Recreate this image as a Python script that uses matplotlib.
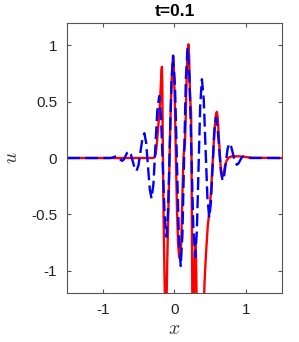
import numpy as np
import matplotlib
matplotlib.use("Agg")
import matplotlib.pyplot as plt

plt.rcParams['font.family'] = ['Liberation Sans', 'DejaVu Sans']
plt.rcParams['mathtext.fontset'] = 'cm'

# dashed blue curve
x_blue = [-1.5, -0.9, -0.875, -0.85, -0.825, -0.8, -0.7825, -0.765, -0.7475, -0.73,
          -0.706, -0.683, -0.659, -0.635, -0.609, -0.583, -0.556, -0.53,
          -0.5025, -0.475, -0.4475, -0.42, -0.395, -0.37, -0.345, -0.32,
          -0.293, -0.2665, -0.24, -0.213, -0.188, -0.1625, -0.137, -0.112,
          -0.089, -0.0655, -0.042, -0.019, 0.0075, 0.034, 0.0605, 0.087,
          0.111, 0.135, 0.159, 0.183, 0.2095, 0.236, 0.2625, 0.289,
          0.3125, 0.336, 0.3595, 0.383, 0.4085, 0.434, 0.4595, 0.485,
          0.508, 0.5315, 0.555, 0.578, 0.601, 0.6245, 0.648, 0.671,
          0.6945, 0.718, 0.7415, 0.765, 0.791, 0.8175, 0.844, 0.87,
          0.8925, 0.915, 0.9375, 0.96, 0.9825, 1.005, 1.0275, 1.05, 1.5]
u_blue = [0.0, 0.0, 0.002, 0.0075, 0.013, 0.015, 0.009, -0.005, -0.019, -0.025,
          -0.013, 0.018, 0.048, 0.06, 0.034, -0.028, -0.089, -0.115,
          -0.066, 0.053, 0.171, 0.22, 0.135, -0.07, -0.275, -0.36,
          -0.227, 0.095, 0.417, 0.55, 0.367, -0.075, -0.5175, -0.70,
          -0.465, 0.105, 0.675, 0.91, 0.637, -0.025, -0.687, -0.96,
          -0.676, 0.0125, 0.701, 0.985, 0.713, 0.0525, -0.608, -0.88,
          -0.649, -0.09, 0.469, 0.70, 0.52, 0.085, -0.35, -0.53,
          -0.40, -0.085, 0.23, 0.36, 0.278, 0.08, -0.118, -0.20,
          -0.152, -0.035, 0.082, 0.13, 0.102, 0.035, -0.032, -0.06,
          -0.049, -0.0225, 0.004, 0.015, 0.013, 0.0075, 0.002, 0.0, 0.0]

# solid red curve
x_red = [-1.5, -0.3, -0.28, -0.26, -0.24, -0.22, -0.205, -0.19, -0.18, -0.175,
         -0.17, -0.165, -0.158, -0.15, -0.14, -0.13, -0.12, -0.11, -0.10, -0.09,
         -0.075, -0.06, -0.045, -0.03, -0.02, -0.01, 0.005, 0.02, 0.035, 0.05,
         0.065, 0.08, 0.095, 0.11, 0.125, 0.135, 0.145, 0.155, 0.165, 0.18,
         0.195, 0.205, 0.215, 0.225, 0.232, 0.238, 0.244, 0.25, 0.26, 0.27,
         0.28, 0.29, 0.30, 0.31, 0.33, 0.37, 0.41, 0.42, 0.44, 0.465,
         0.485, 0.51, 0.535, 0.56, 0.58, 0.592, 0.605, 0.625, 0.645, 0.665,
         0.685, 0.705, 0.73, 0.76, 0.8, 0.9, 1.0, 1.1, 1.5]
u_red = [0.0, 0.0, 0.005, 0.04, 0.17, 0.33, 0.46, 0.65, 0.78, 0.81,
         0.65, 0.3, -0.2, -0.6, -1.0, -1.35, -1.45, -1.25, -0.9, -0.6,
         -0.2, 0.25, 0.6, 0.82, 0.9, 0.82, 0.5, 0.0, -0.45, -0.75,
         -0.88, -0.9, -0.75, -0.35, 0.0, 0.08, 0.12, 0.3, 0.6, 0.9,
         1.01, 0.9, 0.6, 0.47, 0.4, 0.0, -0.7, -1.3, -1.5, -1.3,
         -0.9, -0.76, -0.85, -1.3, -1.6, -1.6, -1.3, -1.1, -0.85, -0.6,
         -0.49, -0.3, -0.02, 0.26, 0.39, 0.41, 0.35, 0.12, -0.08, -0.17,
         -0.14, -0.07, -0.02, 0.005, 0.015, 0.015, 0.008, 0.002, 0.0]

fig = plt.figure(figsize=(2.99, 3.42), dpi=100)
ax = fig.add_axes([0.224, 0.143, 0.719, 0.79])

ax.plot(x_red, u_red, color='red', lw=1.7)
ax.plot(x_blue, u_blue, color='blue', lw=1.7, dashes=(5.5, 2.2))

ax.set_xlim(-1.5, 1.5)
ax.set_ylim(-1.2, 1.2)
ax.set_xticks([-1, 0, 1])
ax.set_xticklabels(['-1', '0', '1'])
ax.set_yticks([-1, -0.5, 0, 0.5, 1])
ax.set_yticklabels(['-1', '-0.5', '0', '0.5', '1'])

gray = '#555555'
for s in ax.spines.values():
    s.set_color(gray)
    s.set_linewidth(0.8)
ax.tick_params(direction='in', top=True, right=True, length=3,
               color=gray, labelsize=11, labelcolor='#222222', pad=7)

ax.set_title('t=0.1', fontsize=12.5, fontweight='bold', pad=5)
ax.set_xlabel(r'$x$', fontsize=14, color='#333333', labelpad=3)
ax.set_ylabel(r'$u$', fontsize=14, color='#333333', labelpad=7)

fig.savefig('out.png', dpi=100)
